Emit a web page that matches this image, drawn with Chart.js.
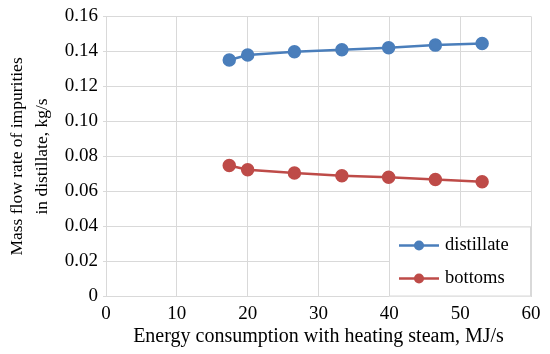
<!DOCTYPE html>
<html>
<head>
<meta charset="utf-8">
<script src="https://cdn.jsdelivr.net/npm/chart.js@4/dist/chart.umd.min.js"></script>
<style>
  html, body { margin: 0; padding: 0; background: #fff; }
  #wrap { width: 550px; height: 354px; }
</style>
</head>
<body>
<div id="wrap"><canvas id="chart"></canvas></div>
<script>
// energy consumption with heating steam, MJ/s
const energy = [17.4, 20.0, 26.6, 33.3, 39.9, 46.5, 53.1]
// mass flow rate of impurities, kg/s
const distillate = [0.1351, 0.1379, 0.1398, 0.1410, 0.1421, 0.1436, 0.1445]
const bottoms = [0.0748, 0.0724, 0.0705, 0.0690, 0.0681, 0.0668, 0.0656]
const seriesNames = ['distillate', 'bottoms']
const xTitle = 'Energy consumption with heating steam, MJ/s'
const yTitle = ['Mass flow rate of impurities', 'in distillate, kg/s']

const FONT = 'Liberation Serif, Times New Roman, serif'
const GRID = '#d9d9d9'

const toPoints = (ys) => energy.map((x, i) => ({ x, y: ys[i] }))

// legend box sitting inside the plot, bottom right
const boxLegend = {
  id: 'boxLegend',
  afterDraw (chart) {
    const { ctx, chartArea } = chart
    const w = 142
    const h = 70
    const x0 = chartArea.right - w
    const y0 = chartArea.bottom - h
    ctx.save()
    ctx.fillStyle = '#fff'
    ctx.fillRect(x0, y0, w, h)
    ctx.strokeStyle = GRID
    ctx.lineWidth = 1
    ctx.strokeRect(x0 + 0.5, y0 + 0.5, w - 1, h - 1)
    ctx.font = '18.5px ' + FONT
    ctx.textBaseline = 'middle'
    chart.data.datasets.forEach((ds, i) => {
      const cy = y0 + 19 + i * 33
      ctx.strokeStyle = ds.borderColor
      ctx.lineWidth = 2.5
      ctx.beginPath()
      ctx.moveTo(x0 + 10, cy)
      ctx.lineTo(x0 + 50, cy)
      ctx.stroke()
      ctx.fillStyle = ds.backgroundColor
      ctx.beginPath()
      ctx.arc(x0 + 30, cy, 5, 0, Math.PI * 2)
      ctx.fill()
      ctx.fillStyle = '#000'
      ctx.fillText(ds.label, x0 + 56, cy)
    })
    ctx.restore()
  }
}

new Chart(document.getElementById('chart').getContext('2d'), {
  type: 'line',
  data: {
    datasets: [
      {
        label: seriesNames[0],
        data: toPoints(distillate),
        borderColor: '#4a7ebb',
        backgroundColor: '#4a7ebb',
        borderWidth: 2.5,
        pointRadius: 5.5,
        pointHoverRadius: 5.5
      },
      {
        label: seriesNames[1],
        data: toPoints(bottoms),
        borderColor: '#be4b48',
        backgroundColor: '#be4b48',
        borderWidth: 2.5,
        pointRadius: 5.5,
        pointHoverRadius: 5.5
      }
    ]
  },
  options: {
    responsive: true,
    maintainAspectRatio: false,
    animation: false,
    layout: { padding: { top: 12, right: 19, left: 0, bottom: 0 } },
    plugins: {
      legend: { display: false },
      tooltip: { enabled: false }
    },
    scales: {
      x: {
        type: 'linear',
        min: 0,
        max: 60,
        ticks: { stepSize: 10, padding: 6, color: '#000', font: { family: FONT, size: 19 } },
        grid: { color: GRID, drawTicks: false },
        border: { color: GRID },
        title: {
          display: true,
          text: xTitle,
          color: '#000',
          font: { family: FONT, size: 20 },
          padding: { top: 0, bottom: 5 }
        },
        afterFit (scale) { scale.height = 57.5 }
      },
      y: {
        min: 0,
        max: 0.16,
        ticks: {
          stepSize: 0.02,
          padding: 5,
          color: '#000',
          font: { family: FONT, size: 19 },
          callback: (v) => v === 0 ? '0' : v.toFixed(2)
        },
        grid: { color: GRID, tickLength: 3 },
        border: { color: GRID },
        title: {
          display: true,
          text: yTitle,
          color: '#000',
          font: { family: FONT, size: 17.5, lineHeight: 1.43 },
          padding: { top: 4.5, bottom: 0 }
        },
        afterFit (scale) { scale.width = 106 }
      }
    }
  },
  plugins: [boxLegend]
})
</script>
</body>
</html>
